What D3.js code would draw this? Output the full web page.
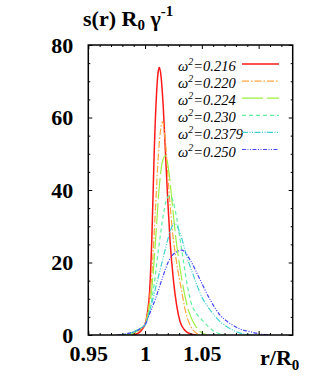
<!DOCTYPE html>
<html><head><meta charset="utf-8">
<script src="https://cdn.jsdelivr.net/npm/d3@7"></script>
<style>
html,body{margin:0;padding:0;background:#fff;}
svg text{font-family:"Liberation Serif","DejaVu Serif",serif;}
</style></head>
<body>
<svg id="c" width="327" height="382"></svg>
<script>
// ---- data ----
const omegaLabels = ["0.216","0.220","0.224","0.230","0.2379","0.250"];
const colors = ["#ff1a1a","#ffa640","#9cf040","#5ff0a0","#40d0d0","#4646ff"];
const dashes = ["none","7,2,1.5,2","21,4","4,3","6,1.5,1,1.5,1,1.5","4,1.5,1,1.5,1,1.5"];

const r216 = [0.985,0.990,0.994,0.997,1.000,1.002,1.004,1.006,1.008,1.010,1.0115,1.0126,1.014,1.016,1.018,1.020,1.022,1.025,1.028,1.031,1.035,1.040,1.045];
const s216 = [0,0.1,0.5,1.4,3.0,6.0,12,27,50,66,72.5,73.8,71.5,63,50,37,26,15,7.8,3.5,1.3,0.3,0];

const r220 = [0.983,0.988,0.992,0.996,1.000,1.003,1.006,1.009,1.012,1.0153,1.018,1.021,1.024,1.028,1.032,1.036,1.040,1.044,1.048];
const s220 = [0,0.2,0.7,1.6,3.0,7.5,17,34,51,58.8,53,40,29,19.5,12.5,6,2.5,0.8,0.1];

const r224 = [0.982,0.987,0.991,0.995,1.000,1.003,1.006,1.009,1.012,1.015,1.018,1.021,1.024,1.027,1.030,1.034,1.038,1.042,1.046,1.050,1.054];
const s224 = [0,0.2,0.7,1.6,2.9,6.5,13,25,39,47.5,49.5,45,36,27,20,12.5,7,3.8,1.8,0.6,0.1];

const r230 = [0.980,0.985,0.990,0.995,1.000,1.004,1.008,1.012,1.016,1.019,1.022,1.025,1.028,1.031,1.034,1.037,1.040,1.045,1.050,1.055,1.060,1.065,1.070];
const s230 = [0,0.3,0.8,1.7,2.9,6.5,14,24,33,37.5,38.5,36.5,32,26,20,14,9.5,6,4.2,2.5,1.2,0.4,0];

const r2379 = [0.978,0.984,0.990,0.995,1.000,1.0044,1.0088,1.0132,1.0176,1.022,1.0258,1.0309,1.0368,1.044,1.0485,1.0573,1.066,1.0748,1.0837,1.095];
const s2379 = [0,0.3,0.9,1.8,2.8,6.9,12.4,17.9,23.4,28.5,30.8,28,21.6,15.2,11.5,6.9,3.7,1.8,0.5,0];

const r250 = [0.975,0.981,0.986,0.991,0.996,1.000,1.0029,1.0088,1.0147,1.0205,1.0265,1.0324,1.036,1.0397,1.0485,1.0573,1.066,1.0748,1.0837,1.0925,1.101,1.110];
const s250 = [0,0.2,0.5,0.9,1.8,2.8,5.0,9.7,15.2,20.2,22.7,23.4,22.5,20.7,15.2,9.7,5.5,3.2,1.65,0.9,0.3,0];

const xMajor = [0.95,1.0,1.05,1.1];
const xTickLabels = ["0.95","1","1.05",""];
const xMinor = [0.96,0.97,0.98,0.99,1.01,1.02,1.03,1.04,1.06,1.07,1.08,1.09,1.11,1.12];
const yMajor = [0,20,40,60,80];
const yMinor = [5,10,15,25,30,35,45,50,55,65,70,75];

const rs = [r216,r220,r224,r230,r2379,r250];
const ss = [s216,s220,s224,s230,s2379,s250];

// ---- drawing ----
const svg = d3.select("#c");
const L=88.3, R=292.7, T=45, B=335;
const x = d3.scaleLinear().domain([0.95,1.13]).range([L,R]);
const y = d3.scaleLinear().domain([0,80]).range([B,T]);

svg.append("defs").append("clipPath").attr("id","clip")
  .append("rect").attr("x",L).attr("y",T).attr("width",R-L).attr("height",B-T);

const line = d3.line().x(d=>x(d[0])).y(d=>y(d[1])).curve(d3.curveMonotoneX);
const curves = svg.append("g").attr("clip-path","url(#clip)");
rs.forEach((rr,i)=>{
  const pts = rr.map((v,j)=>[v, ss[i][j]]);
  curves.append("path").attr("d",line(pts)).attr("fill","none")
    .attr("stroke",colors[i]).attr("stroke-width", i===0?1.5:1.2)
    .attr("stroke-dasharray",dashes[i]);
});

function styleAxis(g){
  g.attr("font-family",null);
  g.select(".domain").remove();
  g.selectAll(".tick line").attr("stroke","#000").attr("stroke-width",1);
  g.selectAll(".tick text").attr("font-size",22).attr("font-weight","bold").attr("fill","#000");
}
// bottom
svg.append("g").attr("transform",`translate(0,${B})`)
  .call(d3.axisBottom(x).tickValues(xMajor).tickSize(-4).tickPadding(10)
    .tickFormat((d,i)=>xTickLabels[i])).call(styleAxis);
svg.append("g").attr("transform",`translate(0,${B})`)
  .call(d3.axisBottom(x).tickValues(xMinor).tickSize(-2).tickFormat("")).call(styleAxis);
// top
svg.append("g").attr("transform",`translate(0,${T})`)
  .call(d3.axisTop(x).tickValues(xMajor).tickSize(-4).tickFormat("")).call(styleAxis);
svg.append("g").attr("transform",`translate(0,${T})`)
  .call(d3.axisTop(x).tickValues(xMinor).tickSize(-2).tickFormat("")).call(styleAxis);
// left
svg.append("g").attr("transform",`translate(${L},0)`)
  .call(d3.axisLeft(y).tickValues(yMajor).tickSize(-4).tickPadding(15)).call(styleAxis);
svg.append("g").attr("transform",`translate(${L},0)`)
  .call(d3.axisLeft(y).tickValues(yMinor).tickSize(-2).tickFormat("")).call(styleAxis);
// right
svg.append("g").attr("transform",`translate(${R},0)`)
  .call(d3.axisRight(y).tickValues(yMajor).tickSize(-4).tickFormat("")).call(styleAxis);
svg.append("g").attr("transform",`translate(${R},0)`)
  .call(d3.axisRight(y).tickValues(yMinor).tickSize(-2).tickFormat("")).call(styleAxis);

// frame
svg.append("rect").attr("x",L).attr("y",T).attr("width",R-L).attr("height",B-T)
  .attr("fill","none").attr("stroke","#000").attr("stroke-width",1.5);

// axis label x
const xl = svg.append("text").attr("x",260).attr("y",365).attr("font-size",22).attr("font-weight","bold");
xl.append("tspan").text("r/R");
xl.append("tspan").attr("font-size",15).attr("dy",5).text("0");

// title
const tt = svg.append("text").attr("x",83).attr("y",26).attr("font-size",22).attr("font-weight","bold");
tt.append("tspan").text("s(r) R");
tt.append("tspan").attr("font-size",15).attr("dy",4).text("0");
tt.append("tspan").attr("dy",-4).text(" \u03B3");
tt.append("tspan").attr("font-size",15).attr("dy",-10).text("-1");

// legend
omegaLabels.forEach((lab,i)=>{
  const yy = 71 + i*17.1;
  const t = svg.append("text").attr("x",178).attr("y",yy).attr("font-size",14.5).attr("font-style","italic");
  t.append("tspan").text("\u03C9");
  t.append("tspan").attr("font-size",10).attr("dy",-6).text("2");
  t.append("tspan").attr("dy",6).text("="+lab);
  svg.append("line").attr("x1",242).attr("x2",279).attr("y1",yy-7).attr("y2",yy-7)
    .attr("stroke",colors[i]).attr("stroke-width", i===0?1.5:1.2).attr("stroke-dasharray",dashes[i]);
});
</script>
</body></html>
